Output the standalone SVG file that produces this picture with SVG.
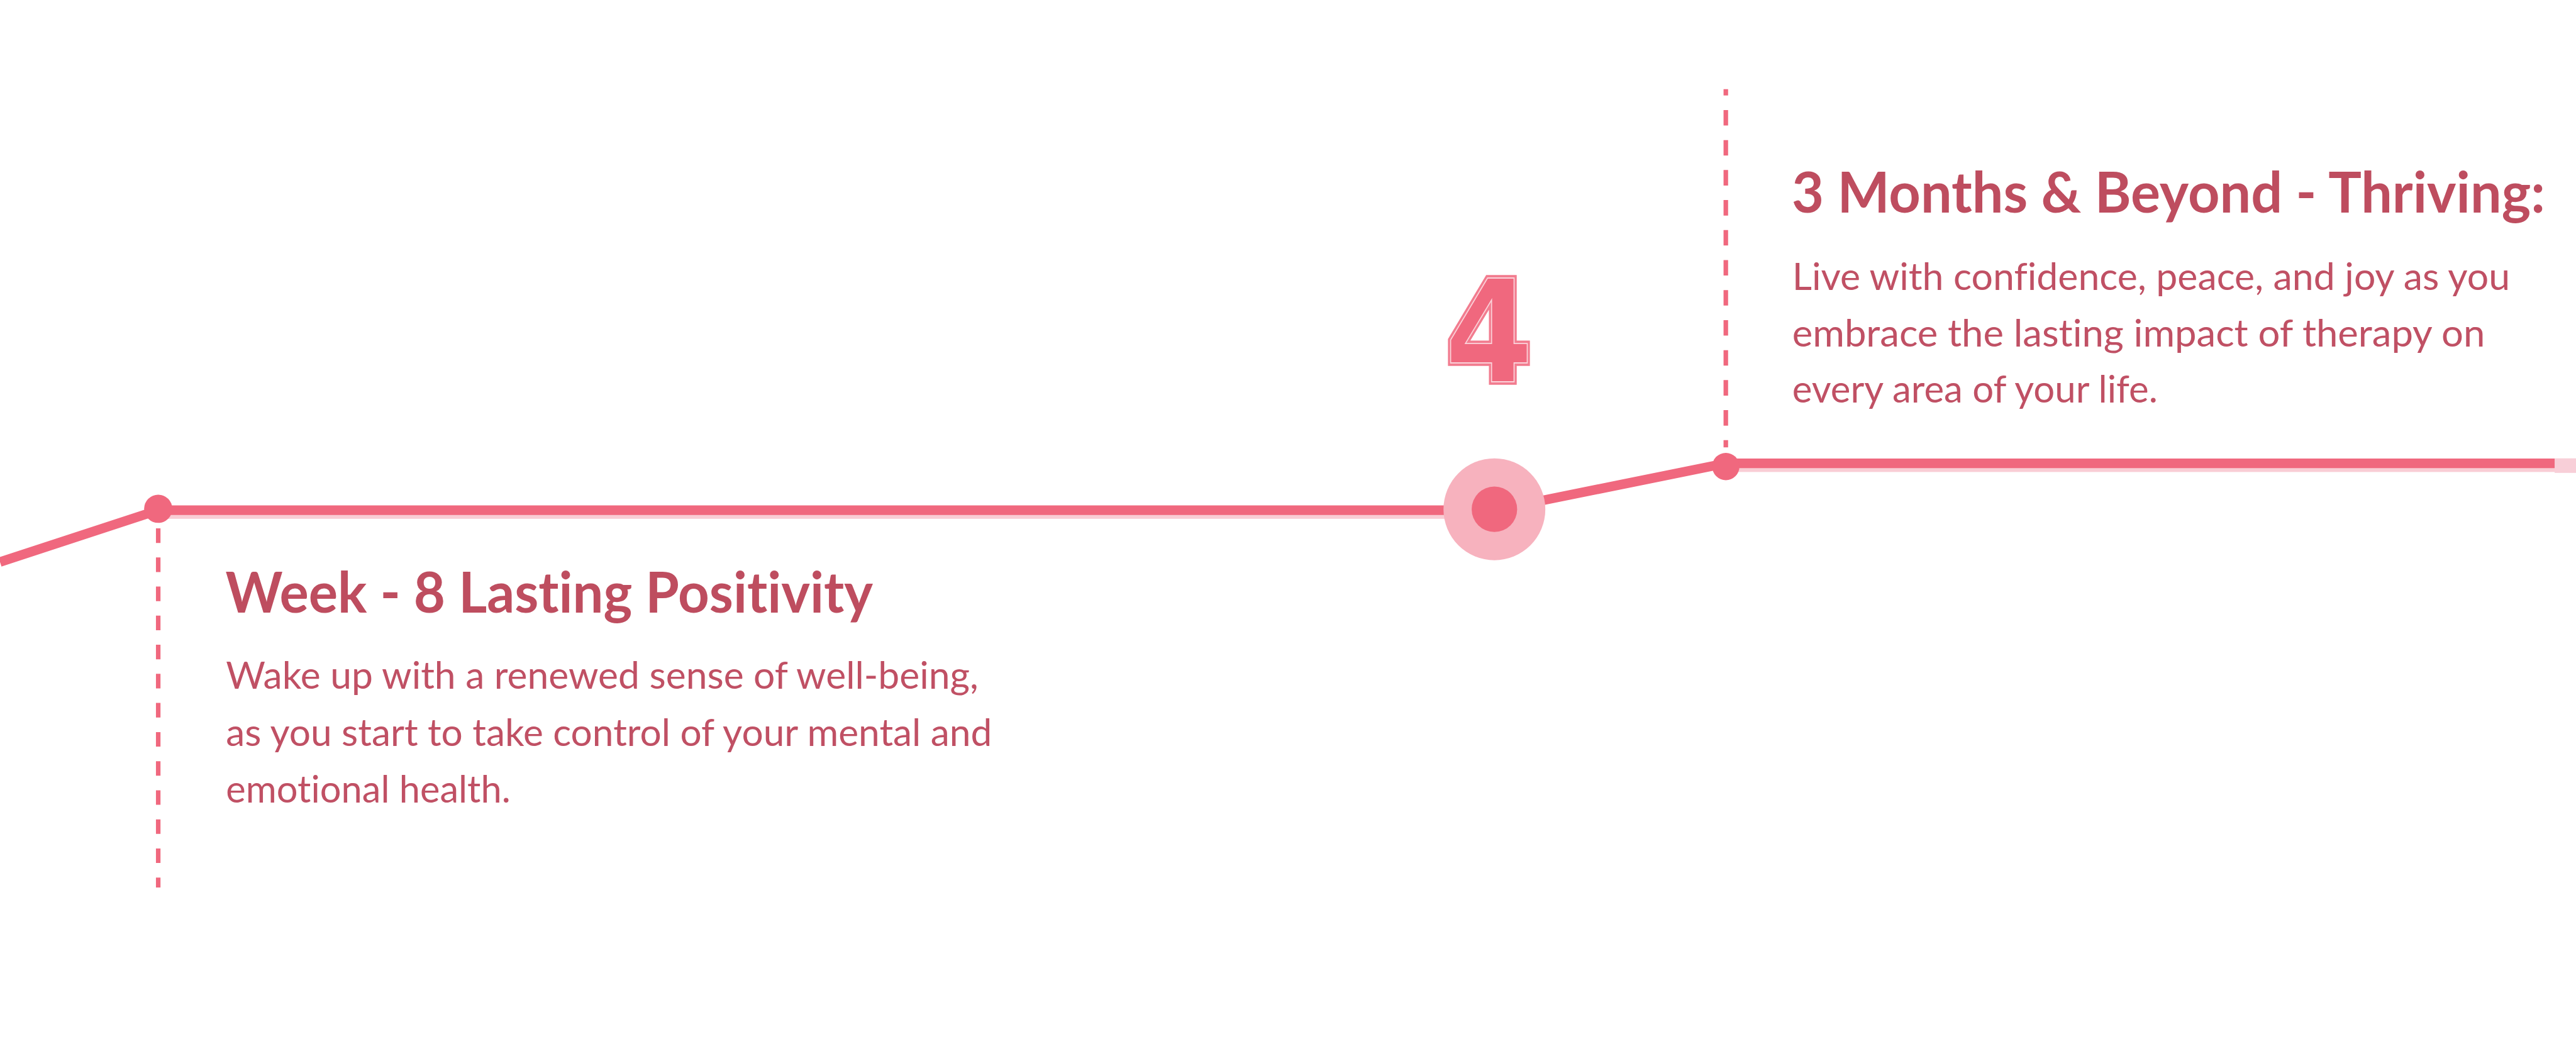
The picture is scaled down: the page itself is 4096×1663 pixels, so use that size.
<svg xmlns="http://www.w3.org/2000/svg" width="4096" height="1663" viewBox="0 0 4096 1663">
<defs>
<style>
.title{font-family:Lato,"Noto Sans","Liberation Sans",sans-serif;font-weight:700;font-size:124px;fill:#BE4D5F;font-variant-ligatures:none}
.body{font-family:Lato,"Noto Sans","Liberation Sans",sans-serif;font-weight:400;font-size:84px;fill:#C05064;font-variant-ligatures:none}
.lead{stroke:#F0687E;stroke-width:10;stroke-dasharray:34 32;fill:none}
.dot{fill:#F0687E}
.num{font-family:"DejaVu Sans","Liberation Sans",sans-serif;font-weight:700;font-size:314px}
</style>
</defs>
<rect width="4096" height="1663" fill="#FFFFFF"/>
<g transform="scale(0.72291)">
<g id="connectors">
<rect x="348" y="1114" width="2939" height="27" fill="#F9CDD5"/>
<rect x="3796" y="1010" width="1823" height="28" fill="#F9CDD5"/>
<rect x="5619" y="1008" width="47" height="32" fill="#F8CFD8"/>
<polyline points="0,1236 348,1122 3287,1122 3796,1019 5619,1019" fill="none" stroke="#F0687E" stroke-width="21" stroke-linejoin="round"/>
</g>
<g id="node-week8">
<line class="lead" x1="348" y1="1162" x2="348" y2="1952" style="stroke-dasharray:32 32"/>
<circle class="dot" cx="348" cy="1119" r="31"/>
<text class="title" x="496" y="1348" textLength="1424" lengthAdjust="spacingAndGlyphs">Week - 8 Lasting Positivity</text>
<text class="body" x="497" y="1515" textLength="1655" lengthAdjust="spacingAndGlyphs">Wake up with a renewed sense of well-being,</text>
<text class="body" x="497" y="1640" textLength="1685" lengthAdjust="spacingAndGlyphs">as you start to take control of your mental and</text>
<text class="body" x="497" y="1765" textLength="626" lengthAdjust="spacingAndGlyphs">emotional health.</text>
</g>
<g id="node-4">
<circle cx="3287" cy="1120" r="112" fill="#F7B2BE"/>
<circle cx="3287" cy="1120" r="50" fill="#F0687E"/>
<text class="num" x="3178" y="840" textLength="194" lengthAdjust="spacingAndGlyphs" fill="#F0687E" stroke="#F27C8F" stroke-width="13" stroke-linejoin="miter">4</text>
<text class="num" x="3178" y="840" textLength="194" lengthAdjust="spacingAndGlyphs" fill="#F0687E" stroke="#FBD3DA" stroke-width="2.5" stroke-linejoin="miter">4</text>
</g>
<g id="node-3months">
<line class="lead" x1="3796" y1="196" x2="3796" y2="984" style="stroke-dashoffset:20"/>
<circle class="dot" cx="3796" cy="1026" r="30"/>
<text class="title" x="3941" y="468" textLength="1657" lengthAdjust="spacingAndGlyphs">3 Months &amp; Beyond - Thriving:</text>
<text class="body" x="3942" y="638" textLength="1579" lengthAdjust="spacingAndGlyphs">Live with confidence, peace, and joy as you</text>
<text class="body" x="3942" y="762" textLength="1524" lengthAdjust="spacingAndGlyphs">embrace the lasting impact of therapy on</text>
<text class="body" x="3942" y="886" textLength="804" lengthAdjust="spacingAndGlyphs">every area of your life.</text>
</g>
</g>
</svg>
